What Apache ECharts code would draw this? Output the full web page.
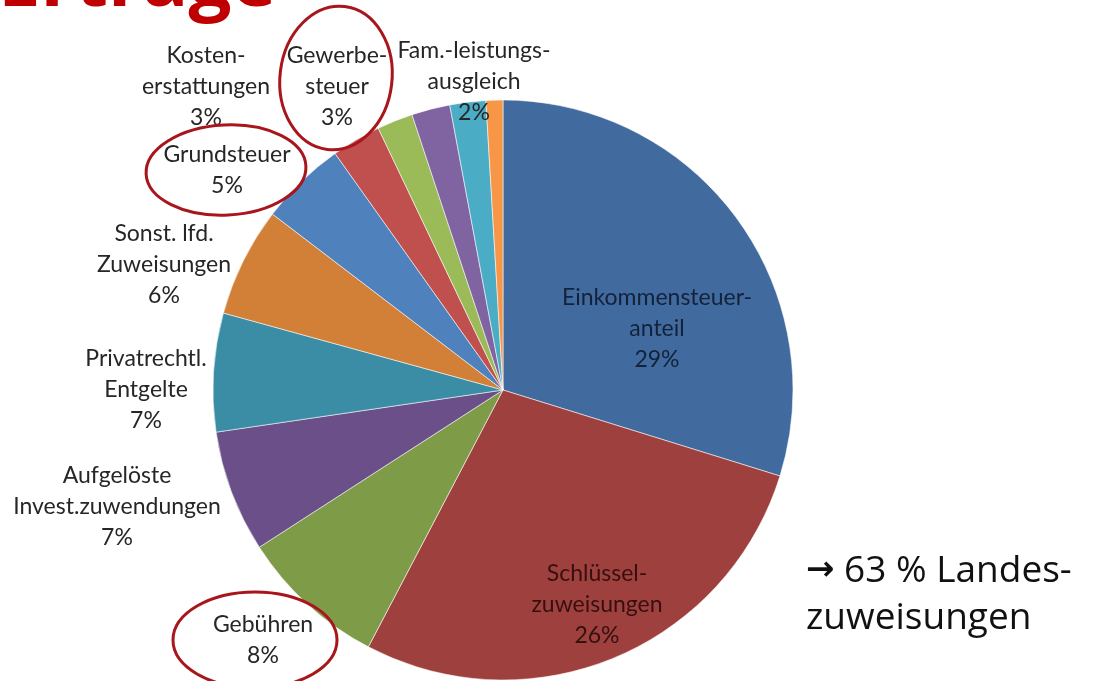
<!DOCTYPE html>
<html>
<head>
<meta charset="utf-8">
<script src="https://cdn.jsdelivr.net/npm/echarts@6/dist/echarts.min.js"></script>
<style>
    html, body { margin: 0; padding: 0; background: #fff; }
    #chartPie { width: 1099px; height: 681px; }
</style>
</head>
<body>
<div id="chartPie"></div>
<script>
    // slices clockwise from 12 o'clock
    var names = ['Einkommensteuer-\nanteil', 'Schlüssel-\nzuweisungen', 'Gebühren', 'Aufgelöste\nInvest.zuwendungen',
        'Privatrechtl.\nEntgelte', 'Sonst. lfd.\nZuweisungen', 'Grundsteuer', 'Kosten-\nerstattungen',
        'Gewerbe-\nsteuer', '', 'Fam.-leistungs-\nausgleich', ''];
    // slice sizes as they appear in the picture (share of the circle, %)
    var shares = [29.8, 27.9, 8.2, 6.8, 6.6, 6.1, 4.8, 2.75, 2.0, 2.14, 2.0, 0.94];
    // percentages printed on the labels
    var printedPct = [29, 26, 8, 7, 7, 6, 5, 3, 3, null, 2, null];
    var colors = ['#416A9F', '#9E403D', '#7E9B48', '#6A4F88', '#3A8DA4', '#D27F38',
        '#4F81BD', '#C0504D', '#9BBB59', '#8064A2', '#4BACC6', '#F79646'];

    // where the labels sit (centre of the text block)
    var labelSpots = {
        0: [657, 329], 1: [597, 605], 2: [263, 640], 3: [117, 507], 4: [146, 390],
        5: [164, 265], 6: [227, 170], 7: [206, 87], 8: [337, 87], 10: [474, 82]
    };

    var pieData = names.map(function (n, i) {
        var item = { name: n, value: shares[i], itemStyle: { color: colors[i] } };
        if (printedPct[i] === null) {
            item.label = { show: false };
        }
        if (i < 2) {
            item.label = { color: i === 0 ? '#13223a' : '#361010' };
        }
        return item;
    });

    var chartPie = echarts.init(document.getElementById('chartPie'));
    chartPie.setOption({
        animation: false,
        graphic: [
            {
                type: 'text',
                x: -2, y: -16,
                style: {
                    text: 'Erträge',
                    font: 'bold 76px "Open Sans"',
                    fill: '#C00000',
                    textAlign: 'left',
                    textVerticalAlign: 'middle'
                }
            },
            {
                type: 'text',
                x: 806, y: 548,
                style: {
                    text: '{a|\u2192} 63 % Landes-\nzuweisungen',
                    font: '37px "Open Sans"',
                    lineHeight: 47,
                    fill: '#111',
                    textAlign: 'left',
                    textVerticalAlign: 'top',
                    rich: {
                        a: { font: 'bold 34px "DejaVu Sans"', fill: '#111', lineHeight: 47 }
                    }
                }
            },
            // red ellipses round the circled labels
            {
                type: 'ellipse', z: 10,
                shape: { cx: 0, cy: 0, rx: 56, ry: 72 },
                x: 336, y: 78, rotation: -0.12,
                style: { fill: 'none', stroke: '#A8161C', lineWidth: 3 }
            },
            {
                type: 'ellipse', z: 10,
                shape: { cx: 0, cy: 0, rx: 80, ry: 45 },
                x: 226, y: 170, rotation: 0.05,
                style: { fill: 'none', stroke: '#A8161C', lineWidth: 3 }
            },
            {
                type: 'ellipse', z: 10,
                shape: { cx: 0, cy: 0, rx: 82, ry: 48 },
                x: 255, y: 640, rotation: 0,
                style: { fill: 'none', stroke: '#A8161C', lineWidth: 3 }
            }
        ],
        series: [
            {
                name: 'Erträge',
                type: 'pie',
                center: [503, 390],
                radius: 290,
                startAngle: 90,
                clockwise: true,
                avoidLabelOverlap: false,
                data: pieData,
                itemStyle: {
                    borderColor: 'rgba(255,255,255,0.55)',
                    borderWidth: 1
                },
                label: {
                    show: true,
                    position: 'outside',
                    fontFamily: 'Lato',
                    fontSize: 23,
                    lineHeight: 31,
                    color: '#262626',
                    align: 'center',
                    formatter: function (p) {
                        return p.name + '\n' + printedPct[p.dataIndex] + '%';
                    }
                },
                labelLine: { show: false },
                labelLayout: function (p) {
                    var s = labelSpots[p.dataIndex];
                    if (!s) return {};
                    return { x: s[0], y: s[1], align: 'center', verticalAlign: 'middle' };
                },
                emphasis: { disabled: true }
            }
        ]
    });
</script>
</body>
</html>
